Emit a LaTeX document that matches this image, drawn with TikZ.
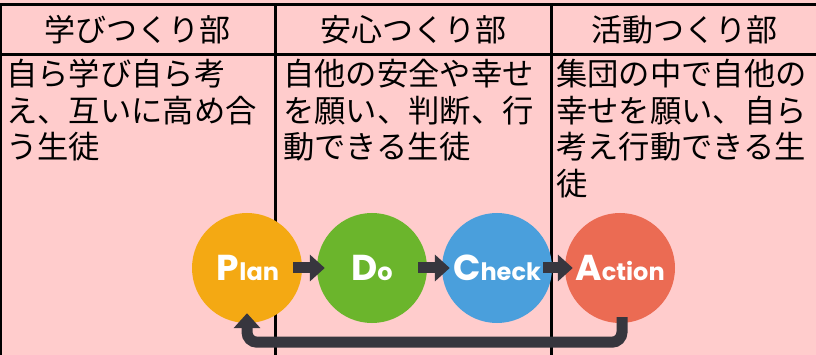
\documentclass[tikz,border=0pt]{standalone}
\usepackage{fontspec}
\newfontfamily\jp{Noto Sans CJK JP}
\newfontfamily\pop{Poppins}
\usetikzlibrary{arrows.meta}
\definecolor{bg}{HTML}{FFCCCC}
\definecolor{cP}{HTML}{F4A913}
\definecolor{cD}{HTML}{6BB52C}
\definecolor{cC}{HTML}{4A9FDC}
\definecolor{cA}{HTML}{EB6B53}
\definecolor{arrc}{HTML}{37363E}
\tikzset{
  rule/.style={line width=3pt, black},
  head/.style={font={\jp\fontsize{31}{31}\selectfont}, anchor=base, inner sep=0pt},
  body/.style={font={\jp\fontsize{31.3}{31.3}\selectfont}, anchor=base west, inner sep=0pt},
  circ/.style={circle, minimum size=110pt, inner sep=0pt},
  lab/.style={text=white, anchor=base, inner sep=0pt, font=\pop\bfseries},
  arr/.style={draw=arrc, line width=11pt, -{Triangle[width=26pt,length=15pt]}},
}
\newcommand{\BigL}[1]{{\fontsize{36}{36}\selectfont #1}}
\newcommand{\SmL}[1]{{\fontsize{24}{24}\selectfont #1}}
\begin{document}
\begin{tikzpicture}[x=1pt,y=-1pt]
\fill[bg] (0,0) rectangle (816,355);
\useasboundingbox (0,0) rectangle (816,355);
% table rules
\draw[rule] (0,4.5) -- (816,4.5);
\draw[rule] (0,55) -- (816,55);
\draw[rule] (275,4.5) -- (275,355);
\draw[rule] (551.5,4.5) -- (551.5,355);
\draw[line width=1.5pt] (0.75,4.5) -- (0.75,355);
% headers
\node[head] (h1) at (137.5,42) {学びつくり部};
\node[head] (h2) at (413,42) {安心つくり部};
\node[head] (h3) at (684,42) {活動つくり部};
% column 1
\node[body] (a1) at (6,86) {自ら学び自ら考};
\node[body] (a2) at (6,122.5) {え、互いに高め合};
\node[body] (a3) at (6,159) {う生徒};
% column 2
\node[body] (b1) at (283,86) {自他の安全や幸せ};
\node[body] (b2) at (283,122.5) {を願い、判断、行};
\node[body] (b3) at (283,159) {動できる生徒};
% column 3
\node[body] (c1) at (556,86) {集団の中で自他の};
\node[body] (c2) at (556,122.5) {幸せを願い、自ら};
\node[body] (c3) at (556,159) {考え行動できる生};
\node[body] (c4) at (556,195.5) {徒};
% PDCA circles
\node[circ, fill=cP] (P) at (247,268) {};
\node[circ, fill=cD] (D) at (372,268) {};
\node[circ, fill=cC] (C) at (497,268) {};
\node[circ, fill=cA] (A) at (620,268) {};
\node[lab] (Pl) at (248,280) {\BigL{P}\SmL{lan}};
\node[lab] (Dl) at (372,280) {\BigL{D}\SmL{o}};
\node[lab] (Cl) at (497,280) {\BigL{C}\SmL{heck}};
\node[lab] (Al) at (620,280) {\BigL{A}\SmL{ction}};
% arrows
\draw[arr] ([xshift=-9pt]P.east) -- ([xshift=8pt]D.west);
\draw[arr] ([xshift=-9pt]D.east) -- ([xshift=8pt]C.west);
\draw[arr] ([xshift=-9pt]C.east) -- ([xshift=8pt]A.west);
\draw[arr, rounded corners=10pt] ([xshift=2pt,yshift=6pt]A.south) -- ++(0,25) -| ([yshift=10pt]P.south);
\end{tikzpicture}
\end{document}
